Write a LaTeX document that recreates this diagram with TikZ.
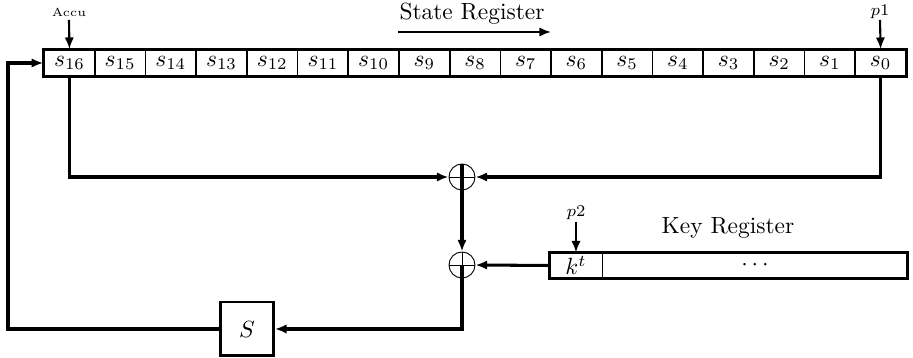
\documentclass[tikz,border=0pt]{standalone}
\usetikzlibrary{arrows.meta}
\tikzset{
  cell/.style={draw, line width=0.7pt, minimum width=0.76cm, minimum height=0.39cm, inner sep=0pt},
  wire/.style={line width=1.3pt, -{Latex[length=5pt,width=4pt]}},
  feed/.style={line width=0.9pt, -{Latex[length=5pt,width=4pt]}},
  xorgate/.style={circle, draw, thin, minimum size=0.39cm, inner sep=0pt,
    path picture={\draw[thin] (path picture bounding box.north) -- (path picture bounding box.south)
      (path picture bounding box.west) -- (path picture bounding box.east);}},
  sbox/.style={draw, line width=1pt, minimum size=0.8cm, inner sep=0pt}
}
\begin{document}
\begin{tikzpicture}[x=0.015cm,y=-0.015cm]%state register, key register, S
\useasboundingbox (0,0) rectangle (913,358);
% state register s_16 ... s_0
\foreach \i in {0,1,...,16} {\node[cell] (s\i) at ({906-50.7*(\i+0.5)},63) {$s_{\i}$};}
\draw[line width=1.3pt] (s16.north west) rectangle (s0.south east);
\node (stxt) at (472,14) {State Register};
\coordinate (dl) at (398,32);
\coordinate (dr) at (551,32);
\draw[feed] (dl) -- (dr);
% inputs
\node[font=\tiny, inner sep=1pt] (accu) at (69,12) {Accu};
\node[font=\scriptsize, inner sep=1pt] (p1) at (880,12) {$p1$};
\coordinate (accuin) at (69,20);
\coordinate (p1in) at (880,20);
\draw[feed] (accuin) -- (s16.north);
\draw[feed] (p1in) -- (s0.north);
% xor gates and S
\node[xorgate] (xor1) at (462,177) {};
\node[xorgate] (xor2) at (462,265) {};
\node[sbox] (S) at (247,329) {$S$};
% key register
\node[minimum width=0.78cm, minimum height=0.375cm, inner sep=0pt] (kt) at (576,265.5) {$k^t$};
\node[minimum width=4.56cm, minimum height=0.375cm, inner sep=0pt, anchor=west] (kdots) at (kt.east) {$\cdots$};
\draw[line width=1.3pt] (kt.north west) rectangle (kdots.south east);
\draw[line width=0.8pt] (kt.north east) -- (kt.south east);
\node (ktxt) at (728,228) {Key Register};
\node[font=\scriptsize, inner sep=1pt] (p2) at (576,213) {$p2$};
\coordinate (p2in) at (576,222);
\draw[feed] (p2in) -- (kt.north);
% connections
\draw[wire] (s16.south) |- (xor1.west);
\draw[wire] (s0.south) |- (xor1.east);
\draw[wire] (xor1.north) -- (xor2.north);
\draw[wire] (kt.west) -- (xor2.east);
\draw[wire] (xor2.center) |- (S.east);
\coordinate (back) at (8,63);
\draw[wire] (S.west) -| (back) -- (s16.west);
\end{tikzpicture}
\end{document}
